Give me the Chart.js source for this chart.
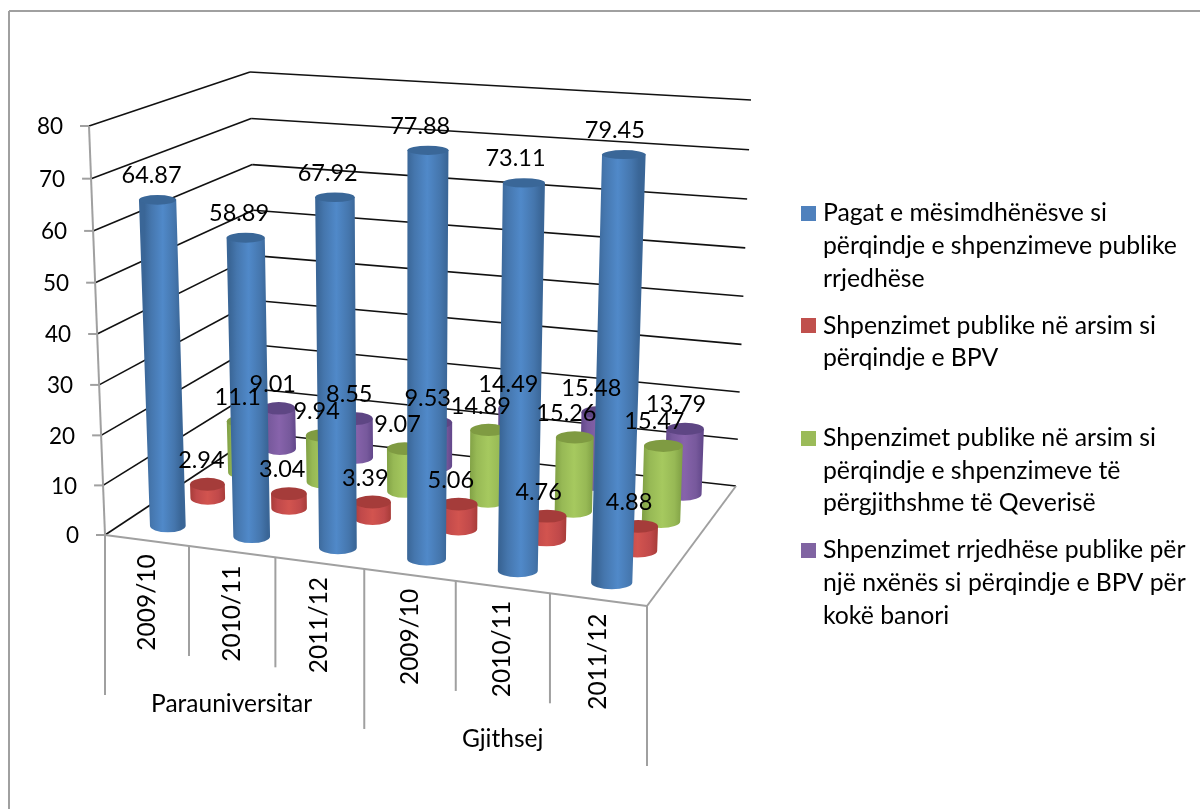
<!DOCTYPE html>
<html>
<head>
<meta charset="utf-8">
<title>Chart</title>
<script src="https://cdn.jsdelivr.net/npm/chart.js@4"></script>
<style>
  html, body { margin: 0; padding: 0; background: #fff; }
  canvas { display: block; }
</style>
</head>
<body>
<canvas id="myChart" width="1200" height="809"></canvas>
<script>
const categories = ['2009/10', '2010/11', '2011/12', '2009/10', '2010/11', '2011/12'];
const groupLabels = ['Parauniversitar', 'Gjithsej'];
const pagat = [64.87, 58.89, 67.92, 77.88, 73.11, 79.45];
const bpv = [2.94, 3.04, 3.39, 5.06, 4.76, 4.88];
const qeveria = [11.1, 9.94, 9.07, 14.89, 15.26, 15.47];
const rrjedhese = [9.01, 8.55, 9.53, 14.49, 15.48, 13.79];
const legendLines = [
  ['Pagat e mësimdhënësve si', 'përqindje e shpenzimeve publike', 'rrjedhëse'],
  ['Shpenzimet publike në arsim si', 'përqindje e BPV', ''],
  ['Shpenzimet publike në arsim si', 'përqindje e shpenzimeve të', 'përgjithshme të Qeverisë'],
  ['Shpenzimet rrjedhëse publike për', 'një nxënës si përqindje e BPV për', 'kokë banori']
];
const seriesColors = ['#4f81bd', '#c0504d', '#9bbb59', '#8064a2'];
// edge, side, middle, top of each cylinder
const shades = [
  ['#3a6697', '#4576ad', '#5089c9', '#3a6798'],
  ['#a83c39', '#c0494a', '#d2544f', '#a53c3a'],
  ['#82a246', '#97b955', '#a6c95f', '#7f9b42'],
  ['#62478a', '#77599c', '#8763ab', '#5e4684']
];

// corners of the 3D box: front-left, front-right, back-right, back-left
const floorCorners = [[105, 535], [647, 606], [736, 486], [259, 433]];
const topCorners = [[89, 126], [662, 164], [751, 100], [250, 72]];
const heightBend = 1.035;

function homography(q) {
  const [[x0, y0], [x1, y1], [x2, y2], [x3, y3]] = q;
  const dx1 = x1 - x2, dx2 = x3 - x2, sx = x0 - x1 + x2 - x3;
  const dy1 = y1 - y2, dy2 = y3 - y2, sy = y0 - y1 + y2 - y3;
  const den = dx1 * dy2 - dx2 * dy1;
  const g = (sx * dy2 - dx2 * sy) / den;
  const h = (dx1 * sy - sx * dy1) / den;
  const a = x1 - x0 + g * x1, b = x3 - x0 + h * x3;
  const d = y1 - y0 + g * y1, e = y3 - y0 + h * y3;
  return (u, v) => {
    const w = g * u + h * v + 1;
    return [(a * u + b * v + x0) / w, (d * u + e * v + y0) / w];
  };
}
const floorAt = homography(floorCorners);
const topAt = homography(topCorners);

// X along the categories, Z into the depth, t up the value axis (all 0..1)
function project(X, Z, t) {
  const p = floorAt(X, Z), q = topAt(X, Z);
  const f = t / (t + (1 - t) * heightBend);
  return [p[0] + (q[0] - p[0]) * f, p[1] + (q[1] - p[1]) * f];
}

function line(ctx, a, b) {
  ctx.beginPath();
  ctx.moveTo(a[0], a[1]);
  ctx.lineTo(b[0], b[1]);
  ctx.stroke();
}

function drawCylinder(ctx, X, Z, t, shade) {
  const halfX = 0.036;
  const base = project(X, Z, 0), top = project(X, Z, t);
  const rb = (project(X + halfX, Z, 0)[0] - project(X - halfX, Z, 0)[0]) / 2;
  const rt = (project(X + halfX, Z, t)[0] - project(X - halfX, Z, t)[0]) / 2;
  const ryb = 6.5, ryt = 6.5 - 2 * t;
  const midX = (base[0] + top[0]) / 2, midR = (rb + rt) / 2;
  const grad = ctx.createLinearGradient(midX - midR, 0, midX + midR, 0);
  grad.addColorStop(0, shade[0]);
  grad.addColorStop(0.18, shade[1]);
  grad.addColorStop(0.5, shade[2]);
  grad.addColorStop(0.82, shade[1]);
  grad.addColorStop(1, shade[0]);
  ctx.fillStyle = grad;
  ctx.beginPath();
  ctx.moveTo(top[0] - rt, top[1]);
  ctx.lineTo(top[0] + rt, top[1]);
  ctx.lineTo(base[0] + rb, base[1]);
  ctx.ellipse(base[0], base[1], rb, ryb, 0, 0, Math.PI);
  ctx.closePath();
  ctx.fill();
  ctx.fillStyle = shade[3];
  ctx.beginPath();
  ctx.ellipse(top[0], top[1], rt, ryt, 0, 0, Math.PI * 2);
  ctx.fill();
}

const box3d = {
  id: 'box3d',
  afterLayout(chart) {
    const lg = chart.legend;
    lg.left = 792; lg.right = 1200; lg.top = 186.5; lg.bottom = 809;
  },
  beforeDatasetsDraw(chart) {
    const ctx = chart.ctx, y = chart.scales.y, x = chart.scales.x;
    ctx.save();
    // outer frame, only top and left show
    ctx.strokeStyle = '#a0a0a0';
    ctx.lineWidth = 2;
    line(ctx, [9, 809], [9, 11]);
    line(ctx, [9, 11], [1200, 11]);

    // walls
    ctx.strokeStyle = '#111';
    ctx.lineWidth = 1.6;
    y.ticks.forEach(tick => {
      const t = (y.bottom - y.getPixelForValue(tick.value)) / y.height;
      line(ctx, project(0, 0, t), project(0, 1, t));
      line(ctx, project(0, 1, t), project(1, 1, t));
    });

    // axis lines and floor edge
    ctx.strokeStyle = '#a0a0a0';
    ctx.lineWidth = 2;
    line(ctx, project(0, 0, 0), project(0, 0, 1));
    line(ctx, project(0, 0, 0), project(1, 0, 0));
    line(ctx, project(1, 0, 0), project(1, 1, 0));
    y.ticks.forEach(tick => {
      const t = (y.bottom - y.getPixelForValue(tick.value)) / y.height;
      const p = project(0, 0, t);
      line(ctx, [p[0] - 9, p[1]], p);
    });

    // category dividers below the floor
    const n = categories.length;
    for (let i = 0; i <= n; i++) {
      const p = project(i / n, 0, 0);
      line(ctx, p, [p[0], p[1] + (i % 3 === 0 ? 160 : 110)]);
    }

    // tick labels
    ctx.fillStyle = '#000';
    ctx.font = '22.5px Lato';
    ctx.textBaseline = 'middle';
    ctx.textAlign = 'right';
    y.ticks.forEach(tick => {
      const t = (y.bottom - y.getPixelForValue(tick.value)) / y.height;
      const p = project(0, 0, t);
      ctx.fillText(tick.label, p[0] - 26, p[1] + 1);
    });
    ctx.textAlign = 'center';
    ctx.font = '24.5px Lato';
    categories.forEach((c, i) => {
      const X = (x.getPixelForValue(i) - x.left) / x.width;
      const p = project(X, 0, 0);
      ctx.save();
      ctx.translate(p[0], p[1] + 62);
      ctx.rotate(-Math.PI / 2);
      ctx.fillText(c, 0, 0);
      ctx.restore();
    });
    groupLabels.forEach((g, i) => {
      const a = project(i * 3 / n, 0, 0), b = project((i + 1) * 3 / n, 0, 0);
      ctx.fillText(g, (a[0] + b[0]) / 2 - 3, (a[1] + b[1]) / 2 + 152);
    });
    ctx.restore();
  },
  afterDatasetsDraw(chart) {
    const ctx = chart.ctx, y = chart.scales.y, x = chart.scales.x;
    const sets = chart.data.datasets;
    ctx.save();
    for (let s = sets.length - 1; s >= 0; s--) {
      const Z = (s + 0.5) / sets.length;
      sets[s].data.forEach((v, i) => {
        const X = (x.getPixelForValue(i) - x.left) / x.width;
        const t = (y.bottom - y.getPixelForValue(v)) / y.height;
        drawCylinder(ctx, X, Z, t, shades[s]);
      });
    }
    // value labels stay on top of everything
    ctx.fillStyle = '#000';
    ctx.font = '23.5px Lato';
    ctx.textAlign = 'center';
    ctx.textBaseline = 'middle';
    for (let s = sets.length - 1; s >= 0; s--) {
      const Z = (s + 0.5) / sets.length;
      sets[s].data.forEach((v, i) => {
        const X = (x.getPixelForValue(i) - x.left) / x.width;
        const t = (y.bottom - y.getPixelForValue(v)) / y.height;
        const p = project(X, Z, t);
        ctx.fillText(String(v), p[0] - 6 - 0.6 * i, p[1] - 24);
      });
    }
    ctx.restore();
  }
};

function legendBox(color) {
  const c = document.createElement('canvas');
  c.width = 15; c.height = 15;
  const g = c.getContext('2d');
  g.fillStyle = color;
  g.fillRect(0, 0, 15, 15);
  return c;
}

Chart.defaults.font.family = 'Lato';

new Chart(document.getElementById('myChart'), {
  type: 'bar',
  data: {
    labels: categories,
    datasets: [pagat, bpv, qeveria, rrjedhese].map((d, i) => ({
      label: legendLines[i].join(' ').trim(),
      data: d,
      backgroundColor: 'transparent'
    }))
  },
  options: {
    responsive: false,
    animation: false,
    scales: {
      x: { display: false },
      y: { display: false, min: 0, max: 80, ticks: { stepSize: 10 } }
    },
    plugins: {
      tooltip: { enabled: false },
      legend: {
        position: 'right',
        align: 'start',
        labels: {
          color: '#000',
          font: { size: 24.8, lineHeight: 1.315 },
          padding: 14.5,
          boxWidth: 4,
          usePointStyle: true,
          generateLabels: () => legendLines.map((lines, i) => ({
            text: lines,
            fillStyle: seriesColors[i],
            strokeStyle: seriesColors[i],
            lineWidth: 0,
            pointStyle: legendBox(seriesColors[i]),
            datasetIndex: i,
            fontColor: '#000'
          }))
        }
      }
    }
  },
  plugins: [box3d]
});
</script>
</body>
</html>
